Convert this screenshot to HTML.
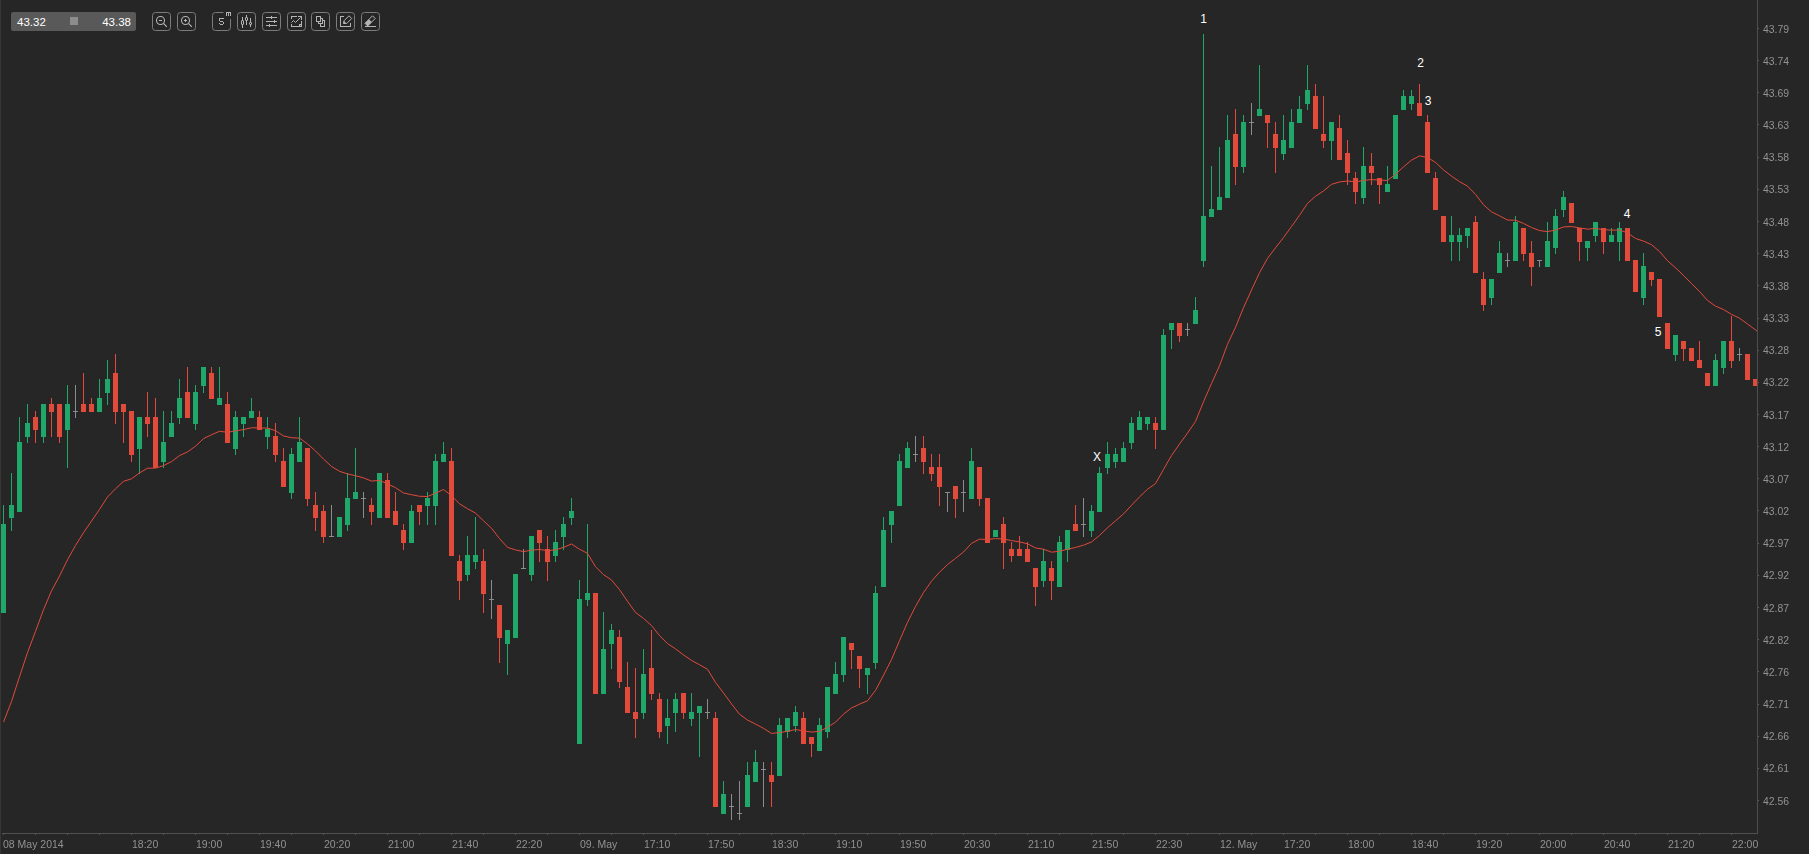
<!DOCTYPE html>
<html><head><meta charset="utf-8"><style>
html,body{margin:0;padding:0;background:#262626;width:1809px;height:854px;overflow:hidden}
svg{display:block}
.ax{font-family:"Liberation Sans",sans-serif;font-size:10.5px;fill:#929292}
.an{font-family:"Liberation Sans",sans-serif;font-size:12px;fill:#ffffff;text-anchor:middle}
.tb{font-family:"Liberation Sans",sans-serif;font-size:11.5px;fill:#ffffff}
</style></head><body>
<svg width="1809" height="854" viewBox="0 0 1809 854" shape-rendering="crispEdges">
<rect x="0" y="0" width="1809" height="854" fill="#262626"/>
<rect x="0" y="0" width="1" height="854" fill="#363636"/>
<rect x="3" y="505" width="1" height="108" fill="#1fa86a"/>
<rect x="1" y="524" width="5" height="89" fill="#1fa86a"/>
<rect x="11" y="473" width="1" height="58" fill="#1fa86a"/>
<rect x="9" y="505" width="5" height="13" fill="#1fa86a"/>
<rect x="19" y="417" width="1" height="95" fill="#1fa86a"/>
<rect x="17" y="442" width="5" height="70" fill="#1fa86a"/>
<rect x="27" y="404" width="1" height="39" fill="#1fa86a"/>
<rect x="25" y="423" width="5" height="14" fill="#1fa86a"/>
<rect x="35" y="411" width="1" height="32" fill="#e24a3b"/>
<rect x="33" y="417" width="5" height="13" fill="#e24a3b"/>
<rect x="43" y="404" width="1" height="39" fill="#1fa86a"/>
<rect x="41" y="404" width="5" height="33" fill="#1fa86a"/>
<rect x="51" y="398" width="1" height="39" fill="#e24a3b"/>
<rect x="49" y="404" width="5" height="8" fill="#e24a3b"/>
<rect x="59" y="404" width="1" height="39" fill="#e24a3b"/>
<rect x="57" y="404" width="5" height="33" fill="#e24a3b"/>
<rect x="67" y="385" width="1" height="83" fill="#1fa86a"/>
<rect x="65" y="404" width="5" height="26" fill="#1fa86a"/>
<rect x="75" y="385" width="1" height="33" fill="#8c8c8c"/>
<rect x="73" y="411" width="5" height="1" fill="#8c8c8c"/>
<rect x="83" y="373" width="1" height="39" fill="#e24a3b"/>
<rect x="81" y="404" width="5" height="8" fill="#e24a3b"/>
<rect x="91" y="398" width="1" height="14" fill="#e24a3b"/>
<rect x="89" y="404" width="5" height="8" fill="#e24a3b"/>
<rect x="99" y="379" width="1" height="33" fill="#1fa86a"/>
<rect x="97" y="398" width="5" height="14" fill="#1fa86a"/>
<rect x="107" y="360" width="1" height="45" fill="#1fa86a"/>
<rect x="105" y="379" width="5" height="14" fill="#1fa86a"/>
<rect x="115" y="354" width="1" height="70" fill="#e24a3b"/>
<rect x="113" y="373" width="5" height="39" fill="#e24a3b"/>
<rect x="123" y="404" width="1" height="39" fill="#e24a3b"/>
<rect x="121" y="404" width="5" height="8" fill="#e24a3b"/>
<rect x="131" y="411" width="1" height="51" fill="#e24a3b"/>
<rect x="129" y="411" width="5" height="44" fill="#e24a3b"/>
<rect x="139" y="417" width="1" height="57" fill="#1fa86a"/>
<rect x="137" y="417" width="5" height="32" fill="#1fa86a"/>
<rect x="147" y="392" width="1" height="45" fill="#e24a3b"/>
<rect x="145" y="417" width="5" height="7" fill="#e24a3b"/>
<rect x="155" y="398" width="1" height="70" fill="#e24a3b"/>
<rect x="153" y="417" width="5" height="51" fill="#e24a3b"/>
<rect x="163" y="411" width="1" height="57" fill="#1fa86a"/>
<rect x="161" y="442" width="5" height="20" fill="#1fa86a"/>
<rect x="171" y="411" width="1" height="26" fill="#1fa86a"/>
<rect x="169" y="423" width="5" height="14" fill="#1fa86a"/>
<rect x="179" y="379" width="1" height="45" fill="#1fa86a"/>
<rect x="177" y="398" width="5" height="20" fill="#1fa86a"/>
<rect x="187" y="367" width="1" height="51" fill="#e24a3b"/>
<rect x="185" y="392" width="5" height="26" fill="#e24a3b"/>
<rect x="195" y="385" width="1" height="45" fill="#1fa86a"/>
<rect x="193" y="392" width="5" height="32" fill="#1fa86a"/>
<rect x="203" y="367" width="1" height="26" fill="#1fa86a"/>
<rect x="201" y="367" width="5" height="19" fill="#1fa86a"/>
<rect x="211" y="367" width="1" height="32" fill="#e24a3b"/>
<rect x="209" y="373" width="5" height="26" fill="#e24a3b"/>
<rect x="219" y="367" width="1" height="38" fill="#1fa86a"/>
<rect x="217" y="398" width="5" height="7" fill="#1fa86a"/>
<rect x="227" y="392" width="1" height="51" fill="#e24a3b"/>
<rect x="225" y="404" width="5" height="39" fill="#e24a3b"/>
<rect x="235" y="411" width="1" height="44" fill="#1fa86a"/>
<rect x="233" y="417" width="5" height="32" fill="#1fa86a"/>
<rect x="243" y="417" width="1" height="20" fill="#1fa86a"/>
<rect x="241" y="417" width="5" height="7" fill="#1fa86a"/>
<rect x="251" y="398" width="1" height="20" fill="#1fa86a"/>
<rect x="249" y="411" width="5" height="7" fill="#1fa86a"/>
<rect x="259" y="411" width="1" height="19" fill="#e24a3b"/>
<rect x="257" y="417" width="5" height="13" fill="#e24a3b"/>
<rect x="267" y="417" width="1" height="32" fill="#1fa86a"/>
<rect x="265" y="429" width="5" height="8" fill="#1fa86a"/>
<rect x="275" y="423" width="1" height="39" fill="#e24a3b"/>
<rect x="273" y="436" width="5" height="19" fill="#e24a3b"/>
<rect x="283" y="448" width="1" height="39" fill="#e24a3b"/>
<rect x="281" y="461" width="5" height="26" fill="#e24a3b"/>
<rect x="291" y="448" width="1" height="51" fill="#1fa86a"/>
<rect x="289" y="454" width="5" height="39" fill="#1fa86a"/>
<rect x="299" y="417" width="1" height="45" fill="#1fa86a"/>
<rect x="297" y="442" width="5" height="20" fill="#1fa86a"/>
<rect x="307" y="448" width="1" height="58" fill="#e24a3b"/>
<rect x="305" y="448" width="5" height="51" fill="#e24a3b"/>
<rect x="315" y="492" width="1" height="39" fill="#e24a3b"/>
<rect x="313" y="505" width="5" height="13" fill="#e24a3b"/>
<rect x="323" y="505" width="1" height="38" fill="#e24a3b"/>
<rect x="321" y="511" width="5" height="26" fill="#e24a3b"/>
<rect x="331" y="505" width="1" height="32" fill="#8c8c8c"/>
<rect x="329" y="536" width="5" height="1" fill="#8c8c8c"/>
<rect x="339" y="517" width="1" height="20" fill="#1fa86a"/>
<rect x="337" y="517" width="5" height="20" fill="#1fa86a"/>
<rect x="347" y="473" width="1" height="58" fill="#1fa86a"/>
<rect x="345" y="498" width="5" height="27" fill="#1fa86a"/>
<rect x="355" y="448" width="1" height="51" fill="#1fa86a"/>
<rect x="353" y="492" width="5" height="7" fill="#1fa86a"/>
<rect x="363" y="492" width="1" height="26" fill="#8c8c8c"/>
<rect x="361" y="498" width="5" height="1" fill="#8c8c8c"/>
<rect x="371" y="498" width="1" height="27" fill="#e24a3b"/>
<rect x="369" y="505" width="5" height="7" fill="#e24a3b"/>
<rect x="379" y="473" width="1" height="45" fill="#1fa86a"/>
<rect x="377" y="473" width="5" height="45" fill="#1fa86a"/>
<rect x="387" y="473" width="1" height="45" fill="#e24a3b"/>
<rect x="385" y="480" width="5" height="38" fill="#e24a3b"/>
<rect x="395" y="492" width="1" height="33" fill="#e24a3b"/>
<rect x="393" y="511" width="5" height="14" fill="#e24a3b"/>
<rect x="403" y="524" width="1" height="26" fill="#e24a3b"/>
<rect x="401" y="530" width="5" height="13" fill="#e24a3b"/>
<rect x="411" y="505" width="1" height="38" fill="#1fa86a"/>
<rect x="409" y="511" width="5" height="32" fill="#1fa86a"/>
<rect x="419" y="505" width="1" height="20" fill="#e24a3b"/>
<rect x="417" y="505" width="5" height="7" fill="#e24a3b"/>
<rect x="427" y="492" width="1" height="33" fill="#1fa86a"/>
<rect x="425" y="498" width="5" height="8" fill="#1fa86a"/>
<rect x="435" y="454" width="1" height="71" fill="#1fa86a"/>
<rect x="433" y="461" width="5" height="45" fill="#1fa86a"/>
<rect x="443" y="442" width="1" height="20" fill="#1fa86a"/>
<rect x="441" y="454" width="5" height="8" fill="#1fa86a"/>
<rect x="451" y="448" width="1" height="108" fill="#e24a3b"/>
<rect x="449" y="461" width="5" height="95" fill="#e24a3b"/>
<rect x="459" y="555" width="1" height="45" fill="#e24a3b"/>
<rect x="457" y="561" width="5" height="20" fill="#e24a3b"/>
<rect x="467" y="536" width="1" height="45" fill="#1fa86a"/>
<rect x="465" y="555" width="5" height="20" fill="#1fa86a"/>
<rect x="475" y="517" width="1" height="52" fill="#1fa86a"/>
<rect x="473" y="555" width="5" height="7" fill="#1fa86a"/>
<rect x="483" y="549" width="1" height="64" fill="#e24a3b"/>
<rect x="481" y="561" width="5" height="33" fill="#e24a3b"/>
<rect x="491" y="580" width="1" height="39" fill="#8c8c8c"/>
<rect x="489" y="599" width="5" height="1" fill="#8c8c8c"/>
<rect x="499" y="605" width="1" height="58" fill="#e24a3b"/>
<rect x="497" y="605" width="5" height="33" fill="#e24a3b"/>
<rect x="507" y="630" width="1" height="45" fill="#1fa86a"/>
<rect x="505" y="630" width="5" height="14" fill="#1fa86a"/>
<rect x="515" y="574" width="1" height="64" fill="#1fa86a"/>
<rect x="513" y="574" width="5" height="64" fill="#1fa86a"/>
<rect x="523" y="549" width="1" height="20" fill="#8c8c8c"/>
<rect x="521" y="568" width="5" height="1" fill="#8c8c8c"/>
<rect x="531" y="536" width="1" height="45" fill="#1fa86a"/>
<rect x="529" y="536" width="5" height="39" fill="#1fa86a"/>
<rect x="539" y="530" width="1" height="32" fill="#e24a3b"/>
<rect x="537" y="530" width="5" height="13" fill="#e24a3b"/>
<rect x="547" y="536" width="1" height="45" fill="#e24a3b"/>
<rect x="545" y="549" width="5" height="13" fill="#e24a3b"/>
<rect x="555" y="530" width="1" height="32" fill="#1fa86a"/>
<rect x="553" y="542" width="5" height="14" fill="#1fa86a"/>
<rect x="563" y="517" width="1" height="33" fill="#1fa86a"/>
<rect x="561" y="524" width="5" height="13" fill="#1fa86a"/>
<rect x="571" y="498" width="1" height="27" fill="#1fa86a"/>
<rect x="569" y="511" width="5" height="7" fill="#1fa86a"/>
<rect x="579" y="580" width="1" height="164" fill="#1fa86a"/>
<rect x="577" y="599" width="5" height="145" fill="#1fa86a"/>
<rect x="587" y="524" width="1" height="82" fill="#1fa86a"/>
<rect x="585" y="593" width="5" height="7" fill="#1fa86a"/>
<rect x="595" y="593" width="1" height="101" fill="#e24a3b"/>
<rect x="593" y="593" width="5" height="101" fill="#e24a3b"/>
<rect x="603" y="612" width="1" height="82" fill="#1fa86a"/>
<rect x="601" y="649" width="5" height="45" fill="#1fa86a"/>
<rect x="611" y="624" width="1" height="45" fill="#1fa86a"/>
<rect x="609" y="630" width="5" height="14" fill="#1fa86a"/>
<rect x="619" y="630" width="1" height="58" fill="#e24a3b"/>
<rect x="617" y="637" width="5" height="45" fill="#e24a3b"/>
<rect x="627" y="662" width="1" height="51" fill="#e24a3b"/>
<rect x="625" y="687" width="5" height="26" fill="#e24a3b"/>
<rect x="635" y="668" width="1" height="70" fill="#e24a3b"/>
<rect x="633" y="712" width="5" height="7" fill="#e24a3b"/>
<rect x="643" y="649" width="1" height="70" fill="#1fa86a"/>
<rect x="641" y="674" width="5" height="39" fill="#1fa86a"/>
<rect x="651" y="630" width="1" height="70" fill="#e24a3b"/>
<rect x="649" y="668" width="5" height="26" fill="#e24a3b"/>
<rect x="659" y="693" width="1" height="45" fill="#e24a3b"/>
<rect x="657" y="699" width="5" height="33" fill="#e24a3b"/>
<rect x="667" y="699" width="1" height="45" fill="#1fa86a"/>
<rect x="665" y="718" width="5" height="8" fill="#1fa86a"/>
<rect x="675" y="693" width="1" height="39" fill="#1fa86a"/>
<rect x="673" y="699" width="5" height="14" fill="#1fa86a"/>
<rect x="683" y="693" width="1" height="26" fill="#e24a3b"/>
<rect x="681" y="693" width="5" height="20" fill="#e24a3b"/>
<rect x="691" y="693" width="1" height="33" fill="#1fa86a"/>
<rect x="689" y="712" width="5" height="7" fill="#1fa86a"/>
<rect x="699" y="706" width="1" height="51" fill="#1fa86a"/>
<rect x="697" y="706" width="5" height="7" fill="#1fa86a"/>
<rect x="707" y="699" width="1" height="20" fill="#8c8c8c"/>
<rect x="705" y="712" width="5" height="1" fill="#8c8c8c"/>
<rect x="715" y="712" width="1" height="95" fill="#e24a3b"/>
<rect x="713" y="718" width="5" height="89" fill="#e24a3b"/>
<rect x="723" y="781" width="1" height="33" fill="#1fa86a"/>
<rect x="721" y="794" width="5" height="20" fill="#1fa86a"/>
<rect x="731" y="794" width="1" height="26" fill="#8c8c8c"/>
<rect x="729" y="806" width="5" height="1" fill="#8c8c8c"/>
<rect x="739" y="781" width="1" height="39" fill="#8c8c8c"/>
<rect x="737" y="813" width="5" height="1" fill="#8c8c8c"/>
<rect x="747" y="762" width="1" height="45" fill="#1fa86a"/>
<rect x="745" y="775" width="5" height="32" fill="#1fa86a"/>
<rect x="755" y="750" width="1" height="32" fill="#1fa86a"/>
<rect x="753" y="762" width="5" height="20" fill="#1fa86a"/>
<rect x="763" y="762" width="1" height="45" fill="#8c8c8c"/>
<rect x="761" y="769" width="5" height="1" fill="#8c8c8c"/>
<rect x="771" y="762" width="1" height="45" fill="#e24a3b"/>
<rect x="769" y="775" width="5" height="7" fill="#e24a3b"/>
<rect x="779" y="718" width="1" height="58" fill="#1fa86a"/>
<rect x="777" y="725" width="5" height="51" fill="#1fa86a"/>
<rect x="787" y="718" width="1" height="20" fill="#1fa86a"/>
<rect x="785" y="718" width="5" height="14" fill="#1fa86a"/>
<rect x="795" y="706" width="1" height="26" fill="#1fa86a"/>
<rect x="793" y="712" width="5" height="14" fill="#1fa86a"/>
<rect x="803" y="712" width="1" height="32" fill="#e24a3b"/>
<rect x="801" y="718" width="5" height="26" fill="#e24a3b"/>
<rect x="811" y="737" width="1" height="20" fill="#e24a3b"/>
<rect x="809" y="737" width="5" height="7" fill="#e24a3b"/>
<rect x="819" y="718" width="1" height="33" fill="#1fa86a"/>
<rect x="817" y="725" width="5" height="26" fill="#1fa86a"/>
<rect x="827" y="687" width="1" height="51" fill="#1fa86a"/>
<rect x="825" y="687" width="5" height="45" fill="#1fa86a"/>
<rect x="835" y="662" width="1" height="32" fill="#1fa86a"/>
<rect x="833" y="674" width="5" height="20" fill="#1fa86a"/>
<rect x="843" y="637" width="1" height="45" fill="#1fa86a"/>
<rect x="841" y="637" width="5" height="38" fill="#1fa86a"/>
<rect x="851" y="643" width="1" height="26" fill="#e24a3b"/>
<rect x="849" y="643" width="5" height="7" fill="#e24a3b"/>
<rect x="859" y="656" width="1" height="32" fill="#e24a3b"/>
<rect x="857" y="656" width="5" height="13" fill="#e24a3b"/>
<rect x="867" y="668" width="1" height="26" fill="#1fa86a"/>
<rect x="865" y="668" width="5" height="7" fill="#1fa86a"/>
<rect x="875" y="586" width="1" height="83" fill="#1fa86a"/>
<rect x="873" y="593" width="5" height="70" fill="#1fa86a"/>
<rect x="883" y="517" width="1" height="70" fill="#1fa86a"/>
<rect x="881" y="530" width="5" height="57" fill="#1fa86a"/>
<rect x="891" y="511" width="1" height="32" fill="#1fa86a"/>
<rect x="889" y="511" width="5" height="14" fill="#1fa86a"/>
<rect x="899" y="454" width="1" height="52" fill="#1fa86a"/>
<rect x="897" y="461" width="5" height="45" fill="#1fa86a"/>
<rect x="907" y="442" width="1" height="26" fill="#1fa86a"/>
<rect x="905" y="448" width="5" height="20" fill="#1fa86a"/>
<rect x="915" y="436" width="1" height="26" fill="#8c8c8c"/>
<rect x="913" y="454" width="5" height="1" fill="#8c8c8c"/>
<rect x="923" y="436" width="1" height="38" fill="#e24a3b"/>
<rect x="921" y="448" width="5" height="14" fill="#e24a3b"/>
<rect x="931" y="454" width="1" height="27" fill="#e24a3b"/>
<rect x="929" y="467" width="5" height="7" fill="#e24a3b"/>
<rect x="939" y="454" width="1" height="52" fill="#e24a3b"/>
<rect x="937" y="467" width="5" height="20" fill="#e24a3b"/>
<rect x="947" y="492" width="1" height="20" fill="#8c8c8c"/>
<rect x="945" y="492" width="5" height="1" fill="#8c8c8c"/>
<rect x="955" y="486" width="1" height="32" fill="#e24a3b"/>
<rect x="953" y="486" width="5" height="13" fill="#e24a3b"/>
<rect x="963" y="480" width="1" height="32" fill="#8c8c8c"/>
<rect x="961" y="492" width="5" height="1" fill="#8c8c8c"/>
<rect x="971" y="448" width="1" height="51" fill="#1fa86a"/>
<rect x="969" y="461" width="5" height="38" fill="#1fa86a"/>
<rect x="979" y="467" width="1" height="39" fill="#e24a3b"/>
<rect x="977" y="467" width="5" height="32" fill="#e24a3b"/>
<rect x="987" y="498" width="1" height="45" fill="#e24a3b"/>
<rect x="985" y="498" width="5" height="45" fill="#e24a3b"/>
<rect x="995" y="530" width="1" height="7" fill="#1fa86a"/>
<rect x="993" y="530" width="5" height="7" fill="#1fa86a"/>
<rect x="1003" y="517" width="1" height="52" fill="#e24a3b"/>
<rect x="1001" y="524" width="5" height="19" fill="#e24a3b"/>
<rect x="1011" y="542" width="1" height="20" fill="#e24a3b"/>
<rect x="1009" y="549" width="5" height="7" fill="#e24a3b"/>
<rect x="1019" y="536" width="1" height="20" fill="#e24a3b"/>
<rect x="1017" y="549" width="5" height="7" fill="#e24a3b"/>
<rect x="1027" y="542" width="1" height="20" fill="#e24a3b"/>
<rect x="1025" y="549" width="5" height="13" fill="#e24a3b"/>
<rect x="1035" y="568" width="1" height="38" fill="#e24a3b"/>
<rect x="1033" y="568" width="5" height="19" fill="#e24a3b"/>
<rect x="1043" y="549" width="1" height="38" fill="#1fa86a"/>
<rect x="1041" y="561" width="5" height="20" fill="#1fa86a"/>
<rect x="1051" y="561" width="1" height="39" fill="#e24a3b"/>
<rect x="1049" y="568" width="5" height="13" fill="#e24a3b"/>
<rect x="1059" y="536" width="1" height="51" fill="#1fa86a"/>
<rect x="1057" y="542" width="5" height="45" fill="#1fa86a"/>
<rect x="1067" y="530" width="1" height="32" fill="#1fa86a"/>
<rect x="1065" y="530" width="5" height="20" fill="#1fa86a"/>
<rect x="1075" y="505" width="1" height="26" fill="#e24a3b"/>
<rect x="1073" y="524" width="5" height="7" fill="#e24a3b"/>
<rect x="1083" y="498" width="1" height="39" fill="#8c8c8c"/>
<rect x="1081" y="524" width="5" height="1" fill="#8c8c8c"/>
<rect x="1091" y="505" width="1" height="32" fill="#1fa86a"/>
<rect x="1089" y="511" width="5" height="20" fill="#1fa86a"/>
<rect x="1099" y="467" width="1" height="45" fill="#1fa86a"/>
<rect x="1097" y="473" width="5" height="39" fill="#1fa86a"/>
<rect x="1107" y="442" width="1" height="32" fill="#1fa86a"/>
<rect x="1105" y="454" width="5" height="14" fill="#1fa86a"/>
<rect x="1115" y="448" width="1" height="20" fill="#1fa86a"/>
<rect x="1113" y="454" width="5" height="8" fill="#1fa86a"/>
<rect x="1123" y="442" width="1" height="20" fill="#1fa86a"/>
<rect x="1121" y="448" width="5" height="14" fill="#1fa86a"/>
<rect x="1131" y="417" width="1" height="32" fill="#1fa86a"/>
<rect x="1129" y="423" width="5" height="20" fill="#1fa86a"/>
<rect x="1139" y="411" width="1" height="19" fill="#1fa86a"/>
<rect x="1137" y="417" width="5" height="13" fill="#1fa86a"/>
<rect x="1147" y="417" width="1" height="13" fill="#1fa86a"/>
<rect x="1145" y="417" width="5" height="7" fill="#1fa86a"/>
<rect x="1155" y="417" width="1" height="32" fill="#e24a3b"/>
<rect x="1153" y="423" width="5" height="7" fill="#e24a3b"/>
<rect x="1163" y="329" width="1" height="101" fill="#1fa86a"/>
<rect x="1161" y="335" width="5" height="95" fill="#1fa86a"/>
<rect x="1171" y="323" width="1" height="26" fill="#1fa86a"/>
<rect x="1169" y="323" width="5" height="7" fill="#1fa86a"/>
<rect x="1179" y="323" width="1" height="19" fill="#e24a3b"/>
<rect x="1177" y="323" width="5" height="13" fill="#e24a3b"/>
<rect x="1187" y="323" width="1" height="13" fill="#8c8c8c"/>
<rect x="1185" y="329" width="5" height="1" fill="#8c8c8c"/>
<rect x="1195" y="297" width="1" height="27" fill="#1fa86a"/>
<rect x="1193" y="310" width="5" height="14" fill="#1fa86a"/>
<rect x="1203" y="34" width="1" height="233" fill="#1fa86a"/>
<rect x="1201" y="216" width="5" height="45" fill="#1fa86a"/>
<rect x="1211" y="166" width="1" height="51" fill="#1fa86a"/>
<rect x="1209" y="209" width="5" height="8" fill="#1fa86a"/>
<rect x="1219" y="147" width="1" height="63" fill="#1fa86a"/>
<rect x="1217" y="197" width="5" height="13" fill="#1fa86a"/>
<rect x="1227" y="115" width="1" height="83" fill="#1fa86a"/>
<rect x="1225" y="140" width="5" height="58" fill="#1fa86a"/>
<rect x="1235" y="109" width="1" height="76" fill="#e24a3b"/>
<rect x="1233" y="134" width="5" height="33" fill="#e24a3b"/>
<rect x="1243" y="115" width="1" height="58" fill="#1fa86a"/>
<rect x="1241" y="122" width="5" height="45" fill="#1fa86a"/>
<rect x="1251" y="103" width="1" height="32" fill="#8c8c8c"/>
<rect x="1249" y="122" width="5" height="1" fill="#8c8c8c"/>
<rect x="1259" y="65" width="1" height="51" fill="#1fa86a"/>
<rect x="1257" y="109" width="5" height="7" fill="#1fa86a"/>
<rect x="1267" y="115" width="1" height="33" fill="#e24a3b"/>
<rect x="1265" y="115" width="5" height="8" fill="#e24a3b"/>
<rect x="1275" y="122" width="1" height="51" fill="#e24a3b"/>
<rect x="1273" y="134" width="5" height="14" fill="#e24a3b"/>
<rect x="1283" y="115" width="1" height="45" fill="#1fa86a"/>
<rect x="1281" y="140" width="5" height="14" fill="#1fa86a"/>
<rect x="1291" y="109" width="1" height="39" fill="#1fa86a"/>
<rect x="1289" y="122" width="5" height="26" fill="#1fa86a"/>
<rect x="1299" y="96" width="1" height="27" fill="#1fa86a"/>
<rect x="1297" y="109" width="5" height="14" fill="#1fa86a"/>
<rect x="1307" y="65" width="1" height="45" fill="#1fa86a"/>
<rect x="1305" y="90" width="5" height="14" fill="#1fa86a"/>
<rect x="1315" y="84" width="1" height="45" fill="#e24a3b"/>
<rect x="1313" y="96" width="5" height="33" fill="#e24a3b"/>
<rect x="1323" y="96" width="1" height="52" fill="#e24a3b"/>
<rect x="1321" y="134" width="5" height="7" fill="#e24a3b"/>
<rect x="1331" y="122" width="1" height="38" fill="#1fa86a"/>
<rect x="1329" y="122" width="5" height="19" fill="#1fa86a"/>
<rect x="1339" y="115" width="1" height="45" fill="#e24a3b"/>
<rect x="1337" y="128" width="5" height="32" fill="#e24a3b"/>
<rect x="1347" y="140" width="1" height="45" fill="#e24a3b"/>
<rect x="1345" y="153" width="5" height="20" fill="#e24a3b"/>
<rect x="1355" y="172" width="1" height="32" fill="#e24a3b"/>
<rect x="1353" y="178" width="5" height="14" fill="#e24a3b"/>
<rect x="1363" y="147" width="1" height="57" fill="#1fa86a"/>
<rect x="1361" y="166" width="5" height="32" fill="#1fa86a"/>
<rect x="1371" y="153" width="1" height="32" fill="#e24a3b"/>
<rect x="1369" y="166" width="5" height="7" fill="#e24a3b"/>
<rect x="1379" y="178" width="1" height="26" fill="#e24a3b"/>
<rect x="1377" y="178" width="5" height="7" fill="#e24a3b"/>
<rect x="1387" y="166" width="1" height="26" fill="#1fa86a"/>
<rect x="1385" y="184" width="5" height="8" fill="#1fa86a"/>
<rect x="1395" y="115" width="1" height="64" fill="#1fa86a"/>
<rect x="1393" y="115" width="5" height="64" fill="#1fa86a"/>
<rect x="1403" y="90" width="1" height="20" fill="#1fa86a"/>
<rect x="1401" y="96" width="5" height="14" fill="#1fa86a"/>
<rect x="1411" y="90" width="1" height="20" fill="#1fa86a"/>
<rect x="1409" y="96" width="5" height="8" fill="#1fa86a"/>
<rect x="1419" y="84" width="1" height="32" fill="#e24a3b"/>
<rect x="1417" y="103" width="5" height="13" fill="#e24a3b"/>
<rect x="1427" y="115" width="1" height="58" fill="#e24a3b"/>
<rect x="1425" y="122" width="5" height="51" fill="#e24a3b"/>
<rect x="1435" y="172" width="1" height="38" fill="#e24a3b"/>
<rect x="1433" y="178" width="5" height="32" fill="#e24a3b"/>
<rect x="1443" y="216" width="1" height="26" fill="#e24a3b"/>
<rect x="1441" y="216" width="5" height="26" fill="#e24a3b"/>
<rect x="1451" y="216" width="1" height="45" fill="#1fa86a"/>
<rect x="1449" y="235" width="5" height="7" fill="#1fa86a"/>
<rect x="1459" y="228" width="1" height="33" fill="#1fa86a"/>
<rect x="1457" y="235" width="5" height="7" fill="#1fa86a"/>
<rect x="1467" y="228" width="1" height="20" fill="#1fa86a"/>
<rect x="1465" y="228" width="5" height="8" fill="#1fa86a"/>
<rect x="1475" y="216" width="1" height="57" fill="#e24a3b"/>
<rect x="1473" y="222" width="5" height="51" fill="#e24a3b"/>
<rect x="1483" y="272" width="1" height="39" fill="#e24a3b"/>
<rect x="1481" y="279" width="5" height="26" fill="#e24a3b"/>
<rect x="1491" y="279" width="1" height="26" fill="#1fa86a"/>
<rect x="1489" y="279" width="5" height="19" fill="#1fa86a"/>
<rect x="1499" y="241" width="1" height="32" fill="#1fa86a"/>
<rect x="1497" y="253" width="5" height="20" fill="#1fa86a"/>
<rect x="1507" y="253" width="1" height="14" fill="#8c8c8c"/>
<rect x="1505" y="260" width="5" height="1" fill="#8c8c8c"/>
<rect x="1515" y="216" width="1" height="45" fill="#1fa86a"/>
<rect x="1513" y="222" width="5" height="39" fill="#1fa86a"/>
<rect x="1523" y="228" width="1" height="33" fill="#e24a3b"/>
<rect x="1521" y="228" width="5" height="26" fill="#e24a3b"/>
<rect x="1531" y="241" width="1" height="45" fill="#e24a3b"/>
<rect x="1529" y="253" width="5" height="14" fill="#e24a3b"/>
<rect x="1539" y="260" width="1" height="7" fill="#8c8c8c"/>
<rect x="1537" y="260" width="5" height="1" fill="#8c8c8c"/>
<rect x="1547" y="222" width="1" height="45" fill="#1fa86a"/>
<rect x="1545" y="241" width="5" height="26" fill="#1fa86a"/>
<rect x="1555" y="209" width="1" height="45" fill="#1fa86a"/>
<rect x="1553" y="216" width="5" height="32" fill="#1fa86a"/>
<rect x="1563" y="191" width="1" height="26" fill="#1fa86a"/>
<rect x="1561" y="197" width="5" height="13" fill="#1fa86a"/>
<rect x="1571" y="203" width="1" height="20" fill="#e24a3b"/>
<rect x="1569" y="203" width="5" height="20" fill="#e24a3b"/>
<rect x="1579" y="228" width="1" height="33" fill="#e24a3b"/>
<rect x="1577" y="228" width="5" height="14" fill="#e24a3b"/>
<rect x="1587" y="241" width="1" height="20" fill="#1fa86a"/>
<rect x="1585" y="241" width="5" height="7" fill="#1fa86a"/>
<rect x="1595" y="222" width="1" height="20" fill="#1fa86a"/>
<rect x="1593" y="222" width="5" height="14" fill="#1fa86a"/>
<rect x="1603" y="228" width="1" height="26" fill="#e24a3b"/>
<rect x="1601" y="228" width="5" height="14" fill="#e24a3b"/>
<rect x="1611" y="228" width="1" height="14" fill="#1fa86a"/>
<rect x="1609" y="235" width="5" height="7" fill="#1fa86a"/>
<rect x="1619" y="222" width="1" height="39" fill="#1fa86a"/>
<rect x="1617" y="228" width="5" height="14" fill="#1fa86a"/>
<rect x="1627" y="228" width="1" height="33" fill="#e24a3b"/>
<rect x="1625" y="228" width="5" height="33" fill="#e24a3b"/>
<rect x="1635" y="260" width="1" height="32" fill="#e24a3b"/>
<rect x="1633" y="260" width="5" height="32" fill="#e24a3b"/>
<rect x="1643" y="253" width="1" height="52" fill="#1fa86a"/>
<rect x="1641" y="266" width="5" height="32" fill="#1fa86a"/>
<rect x="1651" y="272" width="1" height="14" fill="#e24a3b"/>
<rect x="1649" y="272" width="5" height="8" fill="#e24a3b"/>
<rect x="1659" y="279" width="1" height="38" fill="#e24a3b"/>
<rect x="1657" y="279" width="5" height="38" fill="#e24a3b"/>
<rect x="1667" y="323" width="1" height="26" fill="#e24a3b"/>
<rect x="1665" y="323" width="5" height="26" fill="#e24a3b"/>
<rect x="1675" y="335" width="1" height="26" fill="#1fa86a"/>
<rect x="1673" y="335" width="5" height="20" fill="#1fa86a"/>
<rect x="1683" y="341" width="1" height="20" fill="#e24a3b"/>
<rect x="1681" y="341" width="5" height="8" fill="#e24a3b"/>
<rect x="1691" y="348" width="1" height="13" fill="#e24a3b"/>
<rect x="1689" y="348" width="5" height="13" fill="#e24a3b"/>
<rect x="1699" y="341" width="1" height="27" fill="#e24a3b"/>
<rect x="1697" y="360" width="5" height="8" fill="#e24a3b"/>
<rect x="1707" y="373" width="1" height="13" fill="#e24a3b"/>
<rect x="1705" y="373" width="5" height="13" fill="#e24a3b"/>
<rect x="1715" y="354" width="1" height="32" fill="#1fa86a"/>
<rect x="1713" y="360" width="5" height="26" fill="#1fa86a"/>
<rect x="1723" y="341" width="1" height="33" fill="#1fa86a"/>
<rect x="1721" y="341" width="5" height="27" fill="#1fa86a"/>
<rect x="1731" y="316" width="1" height="52" fill="#e24a3b"/>
<rect x="1729" y="341" width="5" height="20" fill="#e24a3b"/>
<rect x="1739" y="348" width="1" height="13" fill="#8c8c8c"/>
<rect x="1737" y="354" width="5" height="1" fill="#8c8c8c"/>
<rect x="1747" y="354" width="1" height="26" fill="#e24a3b"/>
<rect x="1745" y="354" width="5" height="26" fill="#e24a3b"/>
<rect x="1755" y="379" width="1" height="7" fill="#e24a3b"/>
<rect x="1753" y="379" width="4" height="7" fill="#e24a3b"/>
<polyline points="3.5,722.13 11.5,701.45 19.5,676.76 27.5,652.62 35.5,631.38 43.5,609.77 51.5,590.82 59.5,576.06 67.5,559.72 75.5,545.53 83.5,532.69 91.5,521.08 99.5,509.38 107.5,496.99 115.5,488.78 123.5,481.35 131.5,478.81 139.5,472.93 147.5,468.20 155.5,468.12 163.5,465.65 171.5,461.62 179.5,455.57 187.5,451.90 195.5,446.19 203.5,438.62 211.5,434.77 219.5,431.29 227.5,432.32 235.5,430.87 243.5,429.55 251.5,427.76 259.5,427.93 267.5,428.09 275.5,430.63 283.5,435.92 291.5,437.71 299.5,438.14 307.5,443.91 315.5,450.92 323.5,459.07 331.5,466.44 339.5,471.31 347.5,473.92 355.5,475.68 363.5,477.88 371.5,481.06 379.5,480.35 387.5,483.89 395.5,487.70 403.5,492.94 411.5,494.69 419.5,496.27 427.5,496.50 435.5,493.13 443.5,489.47 451.5,495.74 459.5,503.80 467.5,508.71 475.5,513.14 483.5,520.75 491.5,528.23 499.5,538.58 507.5,547.36 515.5,549.91 523.5,551.62 531.5,550.17 539.5,549.46 547.5,550.61 555.5,549.86 563.5,547.39 571.5,543.95 579.5,549.22 587.5,553.39 595.5,566.73 603.5,574.62 611.5,579.96 619.5,589.58 627.5,601.28 635.5,612.46 643.5,618.38 651.5,625.54 659.5,635.61 667.5,643.52 675.5,648.88 683.5,654.93 691.5,660.40 699.5,664.76 707.5,669.29 715.5,682.37 723.5,693.01 731.5,703.84 739.5,714.23 747.5,720.04 755.5,724.10 763.5,728.37 771.5,733.43 779.5,732.62 787.5,731.29 795.5,729.49 803.5,730.86 811.5,732.09 819.5,731.41 827.5,727.21 835.5,722.20 843.5,714.09 851.5,707.94 859.5,704.18 867.5,700.77 875.5,690.50 883.5,675.23 891.5,659.62 899.5,640.71 907.5,622.40 915.5,606.43 923.5,592.58 931.5,581.25 939.5,572.19 947.5,564.60 955.5,558.32 963.5,552.05 971.5,543.38 979.5,539.13 987.5,539.47 995.5,538.58 1003.5,538.98 1011.5,540.53 1019.5,541.93 1027.5,543.80 1035.5,547.89 1043.5,549.19 1051.5,552.17 1059.5,551.27 1067.5,549.26 1075.5,547.44 1083.5,545.19 1091.5,541.96 1099.5,535.45 1107.5,527.76 1115.5,520.81 1123.5,513.92 1131.5,505.29 1139.5,496.88 1147.5,489.28 1155.5,483.60 1163.5,469.48 1171.5,455.50 1179.5,444.06 1187.5,433.11 1195.5,421.40 1203.5,401.83 1211.5,383.53 1219.5,365.77 1227.5,344.32 1235.5,327.31 1243.5,307.72 1251.5,290.00 1259.5,272.78 1267.5,258.39 1275.5,247.76 1283.5,237.55 1291.5,226.51 1299.5,215.33 1307.5,203.42 1315.5,196.23 1323.5,190.93 1331.5,184.33 1339.5,181.96 1347.5,181.00 1355.5,181.94 1363.5,180.39 1371.5,179.58 1379.5,180.05 1387.5,180.48 1395.5,174.28 1403.5,166.88 1411.5,160.18 1419.5,155.91 1427.5,157.44 1435.5,162.41 1443.5,169.90 1451.5,176.08 1459.5,181.67 1467.5,186.13 1475.5,194.36 1483.5,204.79 1491.5,211.84 1499.5,215.82 1507.5,220.02 1515.5,220.23 1523.5,223.41 1531.5,227.49 1539.5,230.58 1547.5,231.58 1555.5,230.09 1563.5,226.95 1571.5,226.50 1579.5,227.88 1587.5,229.14 1595.5,228.48 1603.5,229.68 1611.5,230.17 1619.5,230.01 1627.5,232.86 1635.5,238.43 1643.5,241.08 1651.5,244.67 1659.5,251.51 1667.5,260.69 1675.5,267.80 1683.5,275.43 1691.5,283.53 1699.5,291.45 1707.5,300.42 1715.5,306.14 1723.5,309.52 1731.5,314.37 1739.5,318.16 1747.5,323.99 1755.5,329.86 1757.5,331.33" fill="none" stroke="#e04a3b" stroke-width="1" stroke-linejoin="round" shape-rendering="geometricPrecision"/>
<rect x="1757" y="0" width="1" height="834" fill="#4e4e4e"/>
<rect x="2" y="833" width="1756" height="1" fill="#505050"/>
<rect x="1758" y="28" width="1" height="1" fill="#5a5a5a"/>
<rect x="1758" y="60" width="1" height="1" fill="#5a5a5a"/>
<rect x="1758" y="92" width="1" height="1" fill="#5a5a5a"/>
<rect x="1758" y="124" width="1" height="1" fill="#5a5a5a"/>
<rect x="1758" y="157" width="1" height="1" fill="#5a5a5a"/>
<rect x="1758" y="189" width="1" height="1" fill="#5a5a5a"/>
<rect x="1758" y="221" width="1" height="1" fill="#5a5a5a"/>
<rect x="1758" y="253" width="1" height="1" fill="#5a5a5a"/>
<rect x="1758" y="285" width="1" height="1" fill="#5a5a5a"/>
<rect x="1758" y="318" width="1" height="1" fill="#5a5a5a"/>
<rect x="1758" y="350" width="1" height="1" fill="#5a5a5a"/>
<rect x="1758" y="382" width="1" height="1" fill="#5a5a5a"/>
<rect x="1758" y="414" width="1" height="1" fill="#5a5a5a"/>
<rect x="1758" y="446" width="1" height="1" fill="#5a5a5a"/>
<rect x="1758" y="478" width="1" height="1" fill="#5a5a5a"/>
<rect x="1758" y="510" width="1" height="1" fill="#5a5a5a"/>
<rect x="1758" y="543" width="1" height="1" fill="#5a5a5a"/>
<rect x="1758" y="575" width="1" height="1" fill="#5a5a5a"/>
<rect x="1758" y="607" width="1" height="1" fill="#5a5a5a"/>
<rect x="1758" y="639" width="1" height="1" fill="#5a5a5a"/>
<rect x="1758" y="671" width="1" height="1" fill="#5a5a5a"/>
<rect x="1758" y="704" width="1" height="1" fill="#5a5a5a"/>
<rect x="1758" y="736" width="1" height="1" fill="#5a5a5a"/>
<rect x="1758" y="768" width="1" height="1" fill="#5a5a5a"/>
<rect x="1758" y="800" width="1" height="1" fill="#5a5a5a"/>
<rect x="3" y="834" width="1" height="1" fill="#555"/>
<rect x="35" y="834" width="1" height="1" fill="#555"/>
<rect x="67" y="834" width="1" height="1" fill="#555"/>
<rect x="99" y="834" width="1" height="1" fill="#555"/>
<rect x="131" y="834" width="1" height="1" fill="#555"/>
<rect x="163" y="834" width="1" height="1" fill="#555"/>
<rect x="195" y="834" width="1" height="1" fill="#555"/>
<rect x="227" y="834" width="1" height="1" fill="#555"/>
<rect x="259" y="834" width="1" height="1" fill="#555"/>
<rect x="291" y="834" width="1" height="1" fill="#555"/>
<rect x="323" y="834" width="1" height="1" fill="#555"/>
<rect x="355" y="834" width="1" height="1" fill="#555"/>
<rect x="387" y="834" width="1" height="1" fill="#555"/>
<rect x="419" y="834" width="1" height="1" fill="#555"/>
<rect x="451" y="834" width="1" height="1" fill="#555"/>
<rect x="483" y="834" width="1" height="1" fill="#555"/>
<rect x="515" y="834" width="1" height="1" fill="#555"/>
<rect x="547" y="834" width="1" height="1" fill="#555"/>
<rect x="579" y="834" width="1" height="1" fill="#555"/>
<rect x="611" y="834" width="1" height="1" fill="#555"/>
<rect x="643" y="834" width="1" height="1" fill="#555"/>
<rect x="675" y="834" width="1" height="1" fill="#555"/>
<rect x="707" y="834" width="1" height="1" fill="#555"/>
<rect x="739" y="834" width="1" height="1" fill="#555"/>
<rect x="771" y="834" width="1" height="1" fill="#555"/>
<rect x="803" y="834" width="1" height="1" fill="#555"/>
<rect x="835" y="834" width="1" height="1" fill="#555"/>
<rect x="867" y="834" width="1" height="1" fill="#555"/>
<rect x="899" y="834" width="1" height="1" fill="#555"/>
<rect x="931" y="834" width="1" height="1" fill="#555"/>
<rect x="963" y="834" width="1" height="1" fill="#555"/>
<rect x="995" y="834" width="1" height="1" fill="#555"/>
<rect x="1027" y="834" width="1" height="1" fill="#555"/>
<rect x="1059" y="834" width="1" height="1" fill="#555"/>
<rect x="1091" y="834" width="1" height="1" fill="#555"/>
<rect x="1123" y="834" width="1" height="1" fill="#555"/>
<rect x="1155" y="834" width="1" height="1" fill="#555"/>
<rect x="1187" y="834" width="1" height="1" fill="#555"/>
<rect x="1219" y="834" width="1" height="1" fill="#555"/>
<rect x="1251" y="834" width="1" height="1" fill="#555"/>
<rect x="1283" y="834" width="1" height="1" fill="#555"/>
<rect x="1315" y="834" width="1" height="1" fill="#555"/>
<rect x="1347" y="834" width="1" height="1" fill="#555"/>
<rect x="1379" y="834" width="1" height="1" fill="#555"/>
<rect x="1411" y="834" width="1" height="1" fill="#555"/>
<rect x="1443" y="834" width="1" height="1" fill="#555"/>
<rect x="1475" y="834" width="1" height="1" fill="#555"/>
<rect x="1507" y="834" width="1" height="1" fill="#555"/>
<rect x="1539" y="834" width="1" height="1" fill="#555"/>
<rect x="1571" y="834" width="1" height="1" fill="#555"/>
<rect x="1603" y="834" width="1" height="1" fill="#555"/>
<rect x="1635" y="834" width="1" height="1" fill="#555"/>
<rect x="1667" y="834" width="1" height="1" fill="#555"/>
<rect x="1699" y="834" width="1" height="1" fill="#555"/>
<rect x="1731" y="834" width="1" height="1" fill="#555"/>
<rect x="11" y="12" width="125" height="19" rx="2" fill="#595959" shape-rendering="geometricPrecision"/>
<rect x="70" y="17" width="8" height="8" fill="#8c8c8c"/>
<text x="17" y="26.2" class="tb">43.32</text>
<text x="131" y="26.2" class="tb" text-anchor="end">43.38</text>
<rect x="152.5" y="12.5" width="18" height="18" rx="3" fill="none" stroke="#7c7c7c" stroke-width="1" shape-rendering="geometricPrecision"/>
<rect x="177.5" y="12.5" width="18" height="18" rx="3" fill="none" stroke="#7c7c7c" stroke-width="1" shape-rendering="geometricPrecision"/>
<path d="M223.5,12.5 H215.5 Q212.5,12.5 212.5,15.5 V27.5 Q212.5,30.5 215.5,30.5 H227.5 Q230.5,30.5 230.5,27.5 V19" fill="none" stroke="#7c7c7c" stroke-width="1" shape-rendering="geometricPrecision"/>
<rect x="237.5" y="12.5" width="18" height="18" rx="3" fill="none" stroke="#7c7c7c" stroke-width="1" shape-rendering="geometricPrecision"/>
<rect x="262.5" y="12.5" width="18" height="18" rx="3" fill="none" stroke="#7c7c7c" stroke-width="1" shape-rendering="geometricPrecision"/>
<rect x="287.5" y="12.5" width="18" height="18" rx="3" fill="none" stroke="#7c7c7c" stroke-width="1" shape-rendering="geometricPrecision"/>
<rect x="311.5" y="12.5" width="18" height="18" rx="3" fill="none" stroke="#7c7c7c" stroke-width="1" shape-rendering="geometricPrecision"/>
<rect x="336.5" y="12.5" width="18" height="18" rx="3" fill="none" stroke="#7c7c7c" stroke-width="1" shape-rendering="geometricPrecision"/>
<rect x="361.5" y="12.5" width="18" height="18" rx="3" fill="none" stroke="#7c7c7c" stroke-width="1" shape-rendering="geometricPrecision"/>
<circle cx="160.5" cy="20.5" r="4" fill="none" stroke="#b4b4b4" stroke-width="1.1" shape-rendering="geometricPrecision"/>
<line x1="163.7" y1="23.7" x2="166.8" y2="26.8" stroke="#b4b4b4" stroke-width="1.2" shape-rendering="geometricPrecision"/>
<rect x="159" y="20" width="3" height="1" fill="#b4b4b4"/>
<circle cx="185.5" cy="20.5" r="4" fill="none" stroke="#b4b4b4" stroke-width="1.1" shape-rendering="geometricPrecision"/>
<line x1="188.7" y1="23.7" x2="191.8" y2="26.8" stroke="#b4b4b4" stroke-width="1.2" shape-rendering="geometricPrecision"/>
<rect x="184" y="20" width="3" height="1" fill="#b4b4b4"/>
<rect x="185" y="19" width="1" height="3" fill="#b4b4b4"/>
<rect x="226" y="12" width="5" height="1" fill="#b4b4b4"/>
<rect x="226" y="13" width="1" height="3" fill="#b4b4b4"/>
<rect x="228" y="13" width="1" height="3" fill="#b4b4b4"/>
<rect x="230" y="13" width="1" height="3" fill="#b4b4b4"/>
<rect x="219" y="18" width="5" height="1" fill="#b4b4b4"/>
<rect x="219" y="19" width="1" height="2" fill="#b4b4b4"/>
<rect x="220" y="21" width="3" height="1" fill="#b4b4b4"/>
<rect x="223" y="22" width="1" height="2" fill="#b4b4b4"/>
<rect x="220" y="24" width="3" height="1" fill="#b4b4b4"/>
<rect x="219" y="23" width="1" height="1" fill="#b4b4b4"/>
<rect x="242" y="17" width="1" height="11" fill="#b4b4b4"/>
<rect x="241" y="21" width="1" height="3" fill="#b4b4b4"/>
<rect x="243" y="21" width="1" height="3" fill="#b4b4b4"/>
<rect x="242" y="20" width="1" height="1" fill="#b4b4b4"/>
<rect x="242" y="24" width="1" height="1" fill="#b4b4b4"/>
<rect x="241" y="20" width="1" height="1" fill="#6e6e6e"/>
<rect x="241" y="24" width="1" height="1" fill="#6e6e6e"/>
<rect x="243" y="20" width="1" height="1" fill="#6e6e6e"/>
<rect x="243" y="24" width="1" height="1" fill="#6e6e6e"/>
<rect x="242" y="21" width="1" height="3" fill="#262626"/>
<rect x="246" y="15" width="1" height="10" fill="#b4b4b4"/>
<rect x="245" y="18" width="1" height="2" fill="#b4b4b4"/>
<rect x="247" y="18" width="1" height="2" fill="#b4b4b4"/>
<rect x="246" y="17" width="1" height="1" fill="#b4b4b4"/>
<rect x="246" y="20" width="1" height="1" fill="#b4b4b4"/>
<rect x="245" y="17" width="1" height="1" fill="#6e6e6e"/>
<rect x="245" y="20" width="1" height="1" fill="#6e6e6e"/>
<rect x="247" y="17" width="1" height="1" fill="#6e6e6e"/>
<rect x="247" y="20" width="1" height="1" fill="#6e6e6e"/>
<rect x="246" y="18" width="1" height="2" fill="#262626"/>
<rect x="250" y="18" width="1" height="9" fill="#b4b4b4"/>
<rect x="249" y="23" width="1" height="1" fill="#b4b4b4"/>
<rect x="251" y="23" width="1" height="1" fill="#b4b4b4"/>
<rect x="250" y="22" width="1" height="1" fill="#b4b4b4"/>
<rect x="250" y="24" width="1" height="1" fill="#b4b4b4"/>
<rect x="249" y="22" width="1" height="1" fill="#6e6e6e"/>
<rect x="249" y="24" width="1" height="1" fill="#6e6e6e"/>
<rect x="251" y="22" width="1" height="1" fill="#6e6e6e"/>
<rect x="251" y="24" width="1" height="1" fill="#6e6e6e"/>
<rect x="250" y="23" width="1" height="1" fill="#262626"/>
<rect x="266" y="17" width="11" height="1" fill="#b4b4b4"/>
<rect x="271" y="16" width="1" height="3" fill="#b4b4b4"/>
<rect x="266" y="21" width="11" height="1" fill="#b4b4b4"/>
<rect x="274" y="20" width="1" height="3" fill="#b4b4b4"/>
<rect x="266" y="25" width="11" height="1" fill="#b4b4b4"/>
<rect x="269" y="24" width="1" height="3" fill="#b4b4b4"/>
<rect x="291" y="16" width="6" height="1" fill="#b4b4b4"/>
<rect x="291" y="17" width="1" height="2" fill="#b4b4b4"/>
<rect x="298" y="16" width="4" height="1" fill="#b4b4b4"/>
<rect x="301" y="17" width="1" height="3" fill="#b4b4b4"/>
<rect x="291" y="26" width="11" height="1" fill="#b4b4b4"/>
<rect x="291" y="24" width="1" height="2" fill="#b4b4b4"/>
<rect x="301" y="21" width="1" height="5" fill="#b4b4b4"/>
<rect x="299" y="24" width="2" height="2" fill="#b4b4b4"/>
<rect x="300" y="25" width="1" height="1" fill="#555"/>
<polyline points="291.5,22.5 293.5,20.5 295.5,22.5 300.5,17.5" fill="none" stroke="#b4b4b4" stroke-width="1" shape-rendering="geometricPrecision"/>
<rect x="320.5" y="20.5" width="4" height="6" fill="#262626" stroke="#b4b4b4" stroke-width="1"/>
<rect x="318.5" y="18.5" width="4" height="5" fill="#262626" stroke="#b4b4b4" stroke-width="1"/>
<rect x="316.5" y="16.5" width="4" height="5" fill="#262626" stroke="#b4b4b4" stroke-width="1"/>
<rect x="340" y="16" width="4" height="1" fill="#b4b4b4"/>
<rect x="340" y="17" width="1" height="10" fill="#b4b4b4"/>
<rect x="341" y="26" width="10" height="1" fill="#b4b4b4"/>
<rect x="350" y="23" width="1" height="3" fill="#b4b4b4"/>
<path d="M343.5,23.5 L344,20.8 L349,15.8 L351.7,18.5 L346.7,23.5 Z" fill="none" stroke="#b4b4b4" stroke-width="1" shape-rendering="geometricPrecision"/>
<path d="M343.3,23.7 L344,21 L346,23 Z" fill="#b4b4b4" shape-rendering="geometricPrecision"/>
<rect x="365" y="26" width="11" height="1" fill="#b4b4b4"/>
<rect x="367" y="25" width="1" height="1" fill="#b4b4b4"/>
<path d="M365,23.3 L372.5,15.8 L375.2,18.5 L367.7,26 Z" fill="none" stroke="#b4b4b4" stroke-width="1" shape-rendering="geometricPrecision"/>
<path d="M365,23.3 L369,19.3 L371.7,22 L367.7,26 Z" fill="#b4b4b4" shape-rendering="geometricPrecision"/>
<g shape-rendering="geometricPrecision" style="will-change:transform">
<text x="1763" y="32.6" class="ax" style="font-size:10px" textLength="26" lengthAdjust="spacingAndGlyphs">43.79</text>
<text x="1763" y="64.8" class="ax" style="font-size:10px" textLength="26" lengthAdjust="spacingAndGlyphs">43.74</text>
<text x="1763" y="96.9" class="ax" style="font-size:10px" textLength="26" lengthAdjust="spacingAndGlyphs">43.69</text>
<text x="1763" y="129.1" class="ax" style="font-size:10px" textLength="26" lengthAdjust="spacingAndGlyphs">43.63</text>
<text x="1763" y="161.3" class="ax" style="font-size:10px" textLength="26" lengthAdjust="spacingAndGlyphs">43.58</text>
<text x="1763" y="193.4" class="ax" style="font-size:10px" textLength="26" lengthAdjust="spacingAndGlyphs">43.53</text>
<text x="1763" y="225.6" class="ax" style="font-size:10px" textLength="26" lengthAdjust="spacingAndGlyphs">43.48</text>
<text x="1763" y="257.8" class="ax" style="font-size:10px" textLength="26" lengthAdjust="spacingAndGlyphs">43.43</text>
<text x="1763" y="289.9" class="ax" style="font-size:10px" textLength="26" lengthAdjust="spacingAndGlyphs">43.38</text>
<text x="1763" y="322.1" class="ax" style="font-size:10px" textLength="26" lengthAdjust="spacingAndGlyphs">43.33</text>
<text x="1763" y="354.3" class="ax" style="font-size:10px" textLength="26" lengthAdjust="spacingAndGlyphs">43.28</text>
<text x="1763" y="386.4" class="ax" style="font-size:10px" textLength="26" lengthAdjust="spacingAndGlyphs">43.22</text>
<text x="1763" y="418.6" class="ax" style="font-size:10px" textLength="26" lengthAdjust="spacingAndGlyphs">43.17</text>
<text x="1763" y="450.8" class="ax" style="font-size:10px" textLength="26" lengthAdjust="spacingAndGlyphs">43.12</text>
<text x="1763" y="482.9" class="ax" style="font-size:10px" textLength="26" lengthAdjust="spacingAndGlyphs">43.07</text>
<text x="1763" y="515.1" class="ax" style="font-size:10px" textLength="26" lengthAdjust="spacingAndGlyphs">43.02</text>
<text x="1763" y="547.3" class="ax" style="font-size:10px" textLength="26" lengthAdjust="spacingAndGlyphs">42.97</text>
<text x="1763" y="579.4" class="ax" style="font-size:10px" textLength="26" lengthAdjust="spacingAndGlyphs">42.92</text>
<text x="1763" y="611.6" class="ax" style="font-size:10px" textLength="26" lengthAdjust="spacingAndGlyphs">42.87</text>
<text x="1763" y="643.8" class="ax" style="font-size:10px" textLength="26" lengthAdjust="spacingAndGlyphs">42.82</text>
<text x="1763" y="675.9" class="ax" style="font-size:10px" textLength="26" lengthAdjust="spacingAndGlyphs">42.76</text>
<text x="1763" y="708.1" class="ax" style="font-size:10px" textLength="26" lengthAdjust="spacingAndGlyphs">42.71</text>
<text x="1763" y="740.3" class="ax" style="font-size:10px" textLength="26" lengthAdjust="spacingAndGlyphs">42.66</text>
<text x="1763" y="772.4" class="ax" style="font-size:10px" textLength="26" lengthAdjust="spacingAndGlyphs">42.61</text>
<text x="1763" y="804.6" class="ax" style="font-size:10px" textLength="26" lengthAdjust="spacingAndGlyphs">42.56</text>
<text transform="translate(3,847.8) scale(1.05,1)" class="ax" style="font-size:10px">08 May 2014</text>
<text transform="translate(132,847.8) scale(1.05,1)" class="ax" style="font-size:10px">18:20</text>
<text transform="translate(196,847.8) scale(1.05,1)" class="ax" style="font-size:10px">19:00</text>
<text transform="translate(260,847.8) scale(1.05,1)" class="ax" style="font-size:10px">19:40</text>
<text transform="translate(324,847.8) scale(1.05,1)" class="ax" style="font-size:10px">20:20</text>
<text transform="translate(388,847.8) scale(1.05,1)" class="ax" style="font-size:10px">21:00</text>
<text transform="translate(452,847.8) scale(1.05,1)" class="ax" style="font-size:10px">21:40</text>
<text transform="translate(516,847.8) scale(1.05,1)" class="ax" style="font-size:10px">22:20</text>
<text transform="translate(580,847.8) scale(1.05,1)" class="ax" style="font-size:10px">09. May</text>
<text transform="translate(644,847.8) scale(1.05,1)" class="ax" style="font-size:10px">17:10</text>
<text transform="translate(708,847.8) scale(1.05,1)" class="ax" style="font-size:10px">17:50</text>
<text transform="translate(772,847.8) scale(1.05,1)" class="ax" style="font-size:10px">18:30</text>
<text transform="translate(836,847.8) scale(1.05,1)" class="ax" style="font-size:10px">19:10</text>
<text transform="translate(900,847.8) scale(1.05,1)" class="ax" style="font-size:10px">19:50</text>
<text transform="translate(964,847.8) scale(1.05,1)" class="ax" style="font-size:10px">20:30</text>
<text transform="translate(1028,847.8) scale(1.05,1)" class="ax" style="font-size:10px">21:10</text>
<text transform="translate(1092,847.8) scale(1.05,1)" class="ax" style="font-size:10px">21:50</text>
<text transform="translate(1156,847.8) scale(1.05,1)" class="ax" style="font-size:10px">22:30</text>
<text transform="translate(1220,847.8) scale(1.05,1)" class="ax" style="font-size:10px">12. May</text>
<text transform="translate(1284,847.8) scale(1.05,1)" class="ax" style="font-size:10px">17:20</text>
<text transform="translate(1348,847.8) scale(1.05,1)" class="ax" style="font-size:10px">18:00</text>
<text transform="translate(1412,847.8) scale(1.05,1)" class="ax" style="font-size:10px">18:40</text>
<text transform="translate(1476,847.8) scale(1.05,1)" class="ax" style="font-size:10px">19:20</text>
<text transform="translate(1540,847.8) scale(1.05,1)" class="ax" style="font-size:10px">20:00</text>
<text transform="translate(1604,847.8) scale(1.05,1)" class="ax" style="font-size:10px">20:40</text>
<text transform="translate(1668,847.8) scale(1.05,1)" class="ax" style="font-size:10px">21:20</text>
<text transform="translate(1732,847.8) scale(1.05,1)" class="ax" style="font-size:10px">22:00</text>
</g>
<g shape-rendering="geometricPrecision">
<text x="1203.6" y="23" class="an">1</text>
<text x="1420.5" y="66.5" class="an">2</text>
<text x="1428.2" y="105" class="an">3</text>
<text x="1627.2" y="218" class="an">4</text>
<text x="1658.1" y="336.3" class="an">5</text>
<text x="1097" y="461" class="an">X</text>
</g>
</svg>
</body></html>
